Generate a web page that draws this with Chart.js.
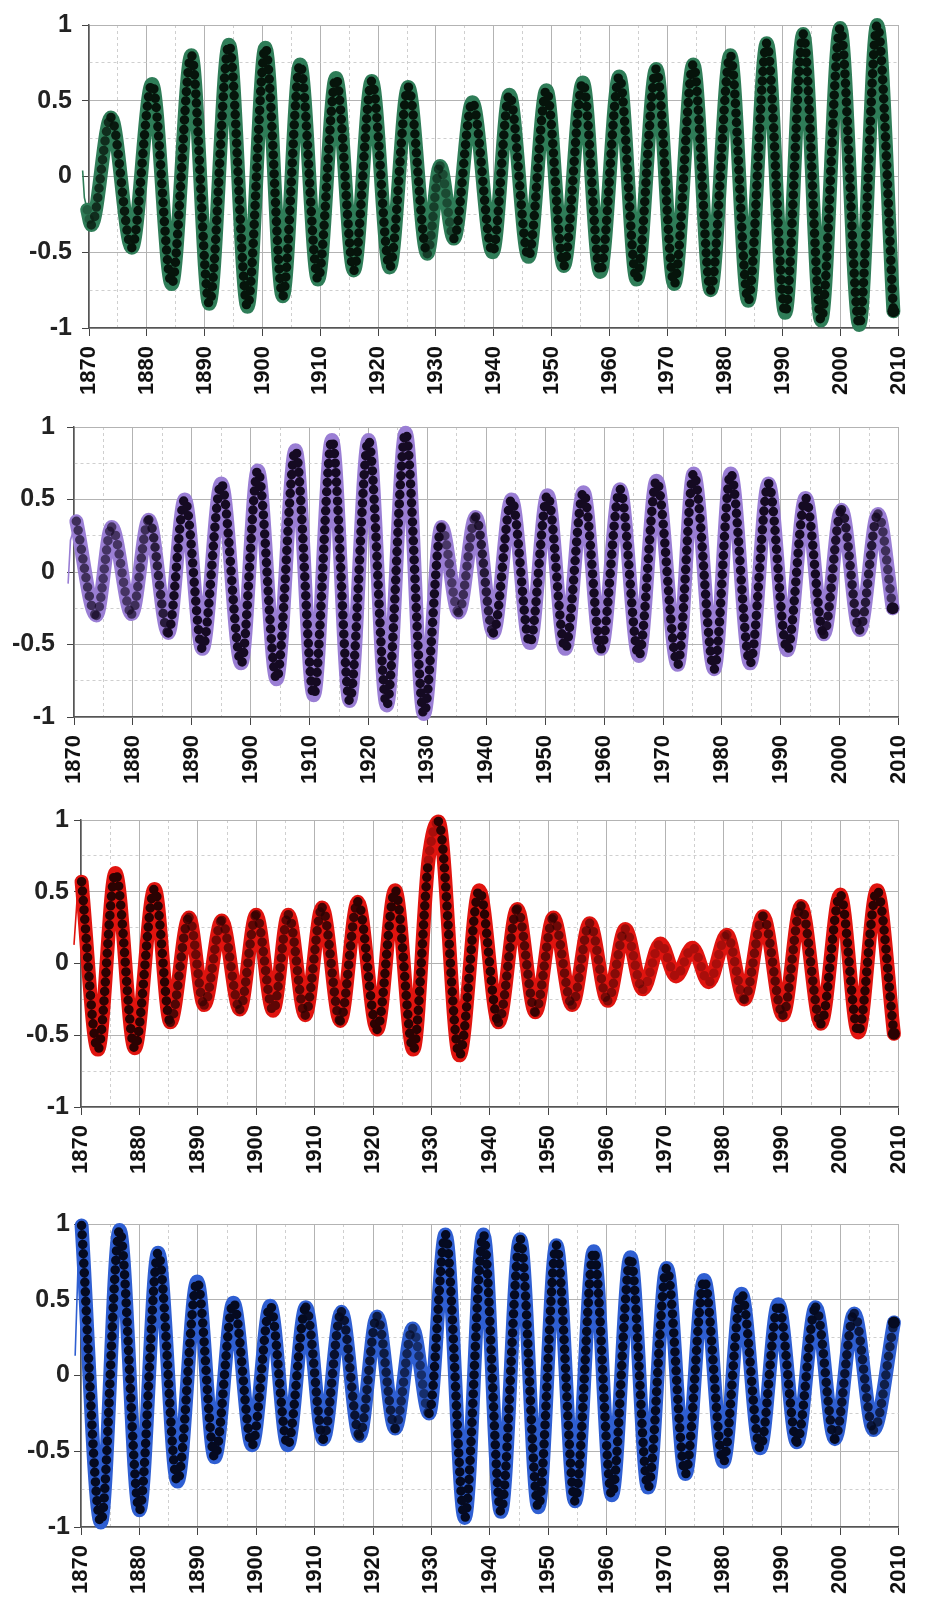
<!DOCTYPE html>
<html>
<head>
<meta charset="utf-8">
<script src="https://cdn.jsdelivr.net/npm/chart.js@4.4.1/dist/chart.umd.min.js"></script>
<style>
  html, body { margin: 0; padding: 0; background: #fff; }
  #wrap { position: relative; width: 935px; height: 1604px; overflow: hidden; }
  canvas { position: absolute; left: 0; }
</style>
</head>
<body>
<div id="wrap">
  <canvas id="c1" width="935" height="400" style="top:0px"></canvas>
  <canvas id="c2" width="935" height="400" style="top:400px"></canvas>
  <canvas id="c3" width="935" height="400" style="top:800px"></canvas>
  <canvas id="c4" width="935" height="404" style="top:1200px"></canvas>
</div>
<script>
// ---------- data (peaks / troughs) ----------
const xTickYears = [1870, 1880, 1890, 1900, 1910, 1920, 1930, 1940, 1950, 1960, 1970, 1980, 1990, 2000, 2010];
const yTickValues = [-1, -0.5, 0, 0.5, 1];

// panel 1 - green
const greenYears = [1869.7, 1870.4, 1873.8, 1877.4, 1880.9, 1884.3, 1887.7, 1890.8, 1894.2, 1897.4, 1900.5, 1903.5,
  1906.5, 1909.6, 1912.7, 1915.8, 1918.9, 1922.0, 1925.2, 1928.5, 1930.7, 1933.1, 1936.3, 1939.8, 1942.7, 1946.0,
  1949.1, 1952.1, 1955.4, 1958.4, 1961.7, 1964.7, 1968.1, 1971.2, 1974.5, 1977.5, 1980.9, 1984.0, 1987.2, 1990.4,
  1993.5, 1996.6, 1999.9, 2003.2, 2006.3, 2009.1];
const greenValues = [-0.22, -0.32, 0.39, -0.47, 0.61, -0.71, 0.80, -0.84, 0.87, -0.86, 0.85, -0.79,
  0.74, -0.68, 0.65, -0.62, 0.63, -0.60, 0.59, -0.51, 0.07, -0.41, 0.49, -0.50, 0.54, -0.53,
  0.57, -0.59, 0.62, -0.63, 0.66, -0.68, 0.71, -0.71, 0.74, -0.75, 0.80, -0.82, 0.88, -0.90,
  0.94, -0.95, 0.98, -0.98, 1.00, -0.89];
const greenLeadYears = [1868.9, 1869.2, 1869.7];
const greenLeadValues = [0.04, -0.14, -0.22];

// panel 2 - purple
const purpleYears = [1870.4, 1873.8, 1876.4, 1879.8, 1882.7, 1886.0, 1888.8, 1891.8, 1895.0, 1898.4, 1901.2, 1904.4,
  1907.6, 1910.7, 1913.8, 1916.8, 1920.0, 1923.1, 1926.3, 1929.4, 1932.4, 1935.3, 1938.2, 1941.2, 1944.3, 1947.4,
  1950.4, 1953.4, 1956.5, 1959.5, 1962.7, 1965.9, 1968.9, 1972.5, 1975.2, 1978.7, 1981.5, 1984.8, 1987.9, 1991.1,
  1994.2, 1997.3, 2000.3, 2003.4, 2006.5, 2009.0];
const purpleValues = [0.35, -0.30, 0.31, -0.29, 0.36, -0.42, 0.50, -0.53, 0.61, -0.63, 0.70, -0.74,
  0.84, -0.85, 0.91, -0.89, 0.91, -0.92, 0.96, -0.98, 0.31, -0.28, 0.38, -0.42, 0.50, -0.49,
  0.53, -0.53, 0.55, -0.53, 0.57, -0.58, 0.63, -0.64, 0.68, -0.67, 0.68, -0.63, 0.61, -0.54,
  0.51, -0.43, 0.43, -0.40, 0.40, -0.25];
const purpleLeadYears = [1869.0, 1869.4, 1870.4];
const purpleLeadValues = [-0.08, 0.22, 0.35];

// panel 3 - red
const redYears = [1870.1, 1872.9, 1875.9, 1879.2, 1882.6, 1885.3, 1888.5, 1891.1, 1894.1, 1897.2, 1900.0, 1902.9,
  1905.5, 1908.4, 1911.3, 1914.4, 1917.4, 1920.7, 1923.8, 1926.9, 1929.5, 1931.2, 1934.8, 1938.2, 1941.5, 1944.7,
  1947.8, 1950.9, 1954.1, 1957.1, 1960.2, 1963.2, 1966.2, 1969.2, 1971.9, 1974.7, 1977.5, 1980.6, 1983.6, 1986.8,
  1990.2, 1993.3, 1996.7, 2000.0, 2003.1, 2006.3, 2009.2];
const redValues = [0.57, -0.60, 0.63, -0.59, 0.52, -0.41, 0.32, -0.29, 0.30, -0.32, 0.34, -0.33,
  0.34, -0.36, 0.39, -0.40, 0.43, -0.46, 0.51, -0.60, 0.72, 0.99, -0.64, 0.51, -0.41, 0.38,
  -0.34, 0.32, -0.29, 0.28, -0.26, 0.24, -0.18, 0.14, -0.09, 0.11, -0.13, 0.20, -0.25, 0.33,
  -0.36, 0.40, -0.42, 0.48, -0.48, 0.51, -0.49];
const redLeadYears = [1868.8, 1869.4, 1870.1];
const redLeadValues = [0.13, 0.49, 0.57];

// panel 4 - blue
const blueYears = [1870.1, 1873.4, 1876.6, 1880.0, 1883.2, 1886.5, 1889.9, 1892.9, 1896.1, 1899.3, 1902.4, 1905.4,
  1908.5, 1911.5, 1914.6, 1917.7, 1920.7, 1923.8, 1926.8, 1929.6, 1932.4, 1935.7, 1938.9, 1941.9, 1945.2, 1948.3,
  1951.4, 1954.6, 1957.8, 1960.9, 1964.1, 1967.1, 1970.3, 1973.5, 1976.7, 1980.0, 1983.1, 1986.3, 1989.4, 1992.6,
  1995.8, 1999.1, 2002.4, 2005.7, 2009.2];
const blueValues = [0.99, -0.97, 0.96, -0.89, 0.81, -0.70, 0.62, -0.54, 0.48, -0.46, 0.46, -0.46,
  0.45, -0.42, 0.42, -0.40, 0.39, -0.35, 0.31, -0.25, 0.93, -0.94, 0.93, -0.90, 0.90, -0.87,
  0.86, -0.83, 0.82, -0.79, 0.78, -0.74, 0.71, -0.65, 0.63, -0.57, 0.54, -0.48, 0.47, -0.44,
  0.45, -0.42, 0.41, -0.36, 0.35];
const blueLeadYears = [1869.0, 1869.6, 1870.1];
const blueLeadValues = [0.13, 0.85, 0.99];

// ---------- helpers ----------
const FONT = "'Liberation Sans', Arial, Helvetica, sans-serif";
const isMajorX = v => xTickYears.includes(v);
const isMajorY = v => yTickValues.some(t => Math.abs(t - v) < 1e-6);
const pts = (xs, ys) => xs.map((x, i) => ({ x: x, y: ys[i] }));

// markers bunch up (and look coloured) where a swing is small
function coreAlpha(rgb, c) {
  const swing = Math.abs(c.p1.parsed.y - c.p0.parsed.y);
  const a = Math.max(0.3, Math.min(1, (swing - 0.1) / 0.8));
  return `rgba(${rgb},${a.toFixed(2)})`;
}

function makePanel(id, g, years, values, leadYears, leadValues, rim, coreRgb) {
  const main = pts(years, values);
  const last = main.length - 1;
  return new Chart(document.getElementById(id), {
    type: 'line',
    data: {
      datasets: [
        { // dark marker centres
          data: main, order: 0, clip: false,
          cubicInterpolationMode: 'monotone',
          borderColor: `rgb(${coreRgb})`, borderWidth: 9.5,
          borderDash: [0, 9.5], borderCapStyle: 'round', borderJoinStyle: 'round',
          segment: { borderColor: c => coreAlpha(coreRgb, c) },
          pointRadius: c => c.dataIndex === last ? 6 : 0,
          pointBackgroundColor: `rgb(${coreRgb})`, pointBorderWidth: 0
        },
        { // coloured marker rims
          data: main, order: 1, clip: false,
          cubicInterpolationMode: 'monotone',
          borderColor: rim, borderWidth: 14,
          borderCapStyle: 'round', borderJoinStyle: 'round',
          pointRadius: 0
        },
        { // thin start line
          data: pts(leadYears, leadValues), order: 2, clip: false,
          borderColor: rim, borderWidth: 1.6, pointRadius: 0, tension: 0
        }
      ]
    },
    options: {
      responsive: false,
      animation: false,
      events: [],
      layout: { padding: { left: 0, top: g.T, right: g.R, bottom: 0 } },
      plugins: { legend: { display: false }, tooltip: { enabled: false } },
      scales: {
        x: {
          type: 'linear',
          afterDataLimits: s => { s.min = 1870; s.max = 2010; },
          afterFit: s => { s.height = g.H; },
          border: { display: true, color: '#555', width: 1.5,
            dash: c => (c.tick && isMajorX(c.tick.value)) ? [] : [3, 3] },
          grid: {
            color: c => (c.tick && isMajorX(c.tick.value)) ? '#b3b3b3' : '#cfcfcf',
            lineWidth: 1,
            tickLength: 8,
            tickColor: c => (c.tick && isMajorX(c.tick.value)) ? '#444' : 'rgba(0,0,0,0)'
          },
          ticks: {
            stepSize: 5, autoSkip: false, minRotation: 90, maxRotation: 90,
            padding: 10, color: '#111',
            font: { family: FONT, size: 22, weight: 'bold' },
            callback: v => isMajorX(v) ? String(v) : ''
          }
        },
        y: {
          min: -1, max: 1,
          afterFit: s => { s.width = g.L; },
          border: { display: true, color: '#555', width: 1.5,
            dash: c => (c.tick && isMajorY(c.tick.value)) ? [] : [3, 3] },
          grid: {
            color: c => (c.tick && isMajorY(c.tick.value)) ? '#b3b3b3' : '#cfcfcf',
            lineWidth: 1,
            tickLength: 7,
            tickColor: c => (c.tick && isMajorY(c.tick.value)) ? '#444' : 'rgba(0,0,0,0)'
          },
          ticks: {
            stepSize: 0.25, autoSkip: false, padding: g.ypad, color: '#222',
            font: { family: FONT, size: 25, weight: 'bold' },
            callback: v => isMajorY(v) ? String(Math.round(v * 2) / 2) : ''
          }
        }
      }
    }
  });
}

// plot-area geometry per panel (pixels inside each canvas)
makePanel('c1', { L: 89, T: 23, R: 22, H: 72, ypad: 10 }, greenYears, greenValues, greenLeadYears, greenLeadValues, '#2f7d58', '6,20,11');
makePanel('c2', { L: 74, T: 27, R: 22, H: 83, ypad: 12 }, purpleYears, purpleValues, purpleLeadYears, purpleLeadValues, '#9a7ed4', '21,10,34');
makePanel('c3', { L: 81, T: 15, R: 11, H: 93, ypad: 5 }, redYears, redValues, redLeadYears, redLeadValues, '#e0140f', '42,2,2');
makePanel('c4', { L: 81, T: 24, R: 15, H: 77, ypad: 4 }, blueYears, blueValues, blueLeadYears, blueLeadValues, '#2f5fd2', '5,10,32');
</script>
</body>
</html>
